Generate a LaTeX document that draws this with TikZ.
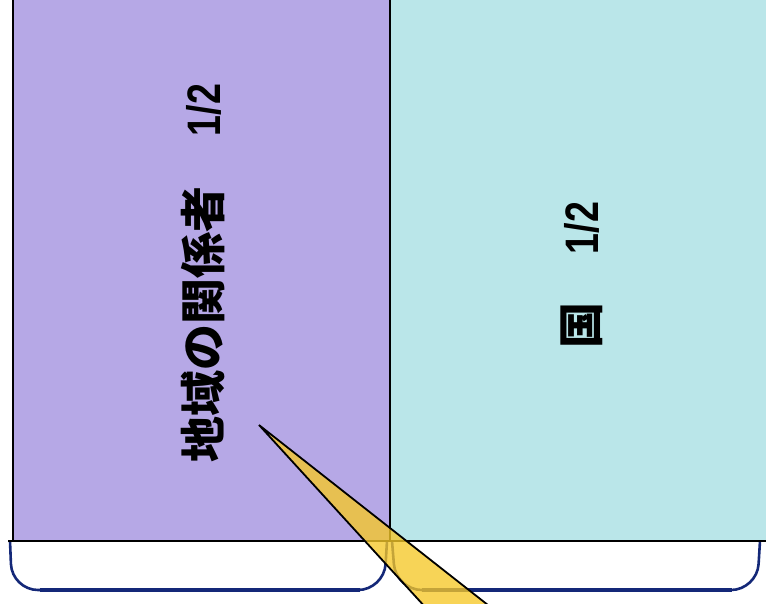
\documentclass[tikz,border=0pt]{standalone}
\usepackage{fontspec}
\newfontfamily\cjk{Noto Sans CJK JP}
\newfontfamily\numfont{Liberation Sans}[FakeStretch=0.8]
\usetikzlibrary{calc}
\usetikzlibrary{positioning}
\definecolor{mypurple}{RGB}{182,168,230}
\definecolor{mycyan}{RGB}{186,230,233}
\definecolor{mynavy}{RGB}{20,40,120}
\definecolor{myyellow}{RGB}{246,200,40}

\newcommand{\jp}[1]{{\cjk\bfseries\fontsize{46}{48}\selectfont #1}}
\newcommand{\half}{{\numfont\bfseries\fontsize{47}{50}\selectfont 1/2}}

\begin{document}
\begin{tikzpicture}[%
  x=1pt, y=-1pt,
  panel/.style={draw=black, line width=1.6pt},
  tray/.style={draw=mynavy, fill=white, line width=2.6pt, rounded corners=26pt},
  label/.style={rotate=90, inner sep=0pt, anchor=base},
  wedge/.style={fill=myyellow, fill opacity=0.78, draw=black, line width=1.8pt},
]

  \useasboundingbox (0,0) rectangle (766,603);
  \clip (0,0) rectangle (766,603);

  % panels
  \coordinate (p0) at (13,-10);
  \coordinate (p1) at (390,541);
  \coordinate (p2) at (780,541);
  \fill[mypurple] (p0) rectangle (p1);
  \fill[mycyan] (390,-10) rectangle (p2);
  \draw[panel] (p0) -- (13,541) -- (p2);
  \draw[panel] (390,-10) -- (p1);

  % trays
  \draw[tray] (10,541) -- (12,590) -- (384,590) -- (387,541);
  \draw[tray] (392,541) -- (396,590) -- (757,590) -- (760,541);
  \draw[mynavy, line width=4.5pt] (40,590) -- (360,590);
  \draw[mynavy, line width=4.5pt] (422,590) -- (732,590);
  \draw[panel] (8,541) -- (p2);

  % labels
  \node[label] (local) at (220,273) {\jp{地域の関係者}\hspace{50pt}\half};
  \node[label] (country) at (598,275) {\jp{国}\hspace{48pt}\half};

  % pointer
  \coordinate (tip) at (259,425);
  \coordinate (bl) at (437,620);
  \coordinate (br) at (507,620);
  \path[wedge] (bl) -- (tip) -- (br);

\end{tikzpicture}
\end{document}
